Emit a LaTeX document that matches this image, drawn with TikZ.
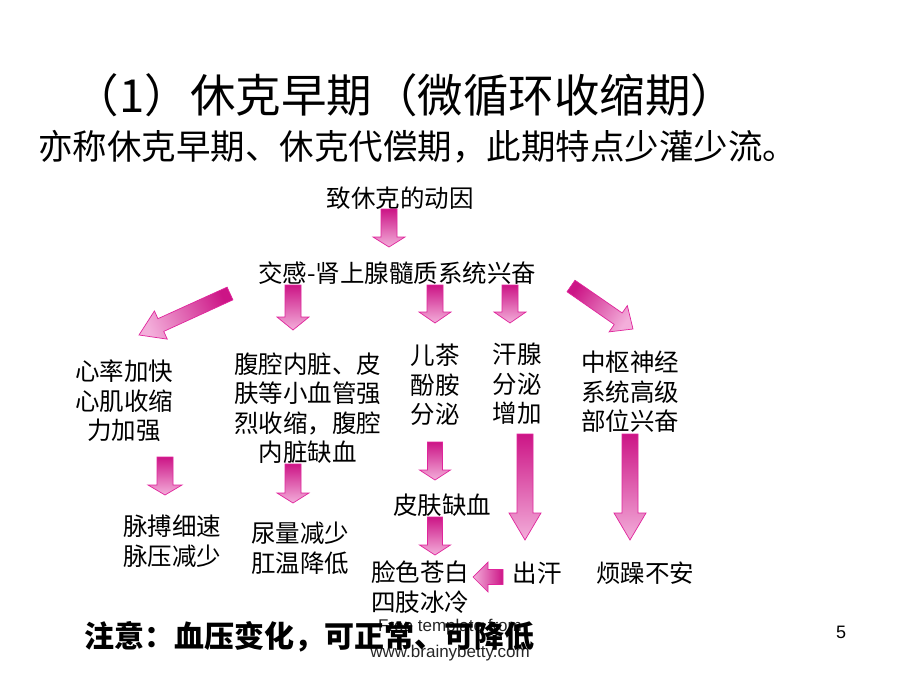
\documentclass[tikz,border=0pt]{standalone}
\usepackage{fontspec}
\setmainfont{Liberation Sans}
\newfontfamily\cjk{Noto Sans CJK SC}
\usetikzlibrary{calc}
\definecolor{arrdark}{HTML}{CC1586}
\definecolor{arrlight}{HTML}{F3AEDA}
\definecolor{arrline}{HTML}{E0259C}
\newdimen\blkdx
\newdimen\blkdy
\newcommand\blkarrow[5]{%
  \pgfmathanglebetweenpoints{\pgfpointanchor{#1}{center}}{\pgfpointanchor{#2}{center}}%
  \let\blkang\pgfmathresult
  \pgfmathparse{\blkang+90}\let\blkshang\pgfmathresult
  \pgfextractx{\blkdx}{\pgfpointdiff{\pgfpointanchor{#1}{center}}{\pgfpointanchor{#2}{center}}}%
  \pgfextracty{\blkdy}{\pgfpointdiff{\pgfpointanchor{#1}{center}}{\pgfpointanchor{#2}{center}}}%
  \pgfmathveclen{\blkdx}{\blkdy}\let\blklen\pgfmathresult
  \begin{scope}[shift={(#1)},rotate=\blkang]
    \shade[blockarrow,shading angle=\blkshang] (0pt,#3) -- ({\blklen pt-#5},#3) -- ({\blklen pt-#5},#4) -- (\blklen pt,0pt)
      -- ({\blklen pt-#5},-#4) -- ({\blklen pt-#5},-#3) -- (0pt,-#3) -- cycle;
  \end{scope}}
\tikzset{
  blockarrow/.style={draw=arrline,line width=0.7pt,line join=miter,top color=arrdark,bottom color=arrlight},
  txt/.style={inner sep=0pt,align=center,font=\cjk\fontsize{24.5}{29.5}\selectfont},
}
\begin{document}
\begin{tikzpicture}[x=1pt,y=-1pt]
\useasboundingbox (0,0) rectangle (900,675);
\fill[white] (0,0) rectangle (900,675);
% titles
\node[inner sep=0pt,font=\cjk\fontsize{45.5}{50}\selectfont] (title) at (405,95) {（1）休克早期（微循环收缩期）};
\node[inner sep=0pt,anchor=west,font=\cjk\fontsize{34.5}{40}\selectfont] (sub) at (38,147) {亦称休克早期、休克代偿期，此期特点少灌少流。};
% main nodes
\node[txt] (cause) at (400,198) {致休克的动因};
\node[txt] (symp) at (397,273) {交感-肾上腺髓质系统兴奋};
\node[txt] (heart) at (124,401) {心率加快\\心肌收缩\\力加强};
\node[txt] (vessel) at (307.5,408) {腹腔内脏、皮\\肤等小血管强\\烈收缩，腹腔\\内脏缺血};
\node[txt] (cat) at (435,385) {儿茶\\酚胺\\分泌};
\node[txt] (sweatg) at (517,384) {汗腺\\分泌\\增加};
\node[txt] (cns) at (630,392) {中枢神经\\系统高级\\部位兴奋};
\node[txt] (pulse) at (172,541) {脉搏细速\\脉压减少};
\node[txt] (urine) at (300,548) {尿量减少\\肛温降低};
\node[txt] (skin) at (442,505) {皮肤缺血};
\node[txt] (pale) at (420,587) {脸色苍白\\四肢冰冷};
\node[txt] (sweat) at (537,573) {出汗};
\node[txt] (rest) at (645,573) {烦躁不安};
% arrows
\coordinate (a1s) at (389,209); \coordinate (a1e) at (389,247);
\coordinate (a2s) at (230,293.5); \coordinate (a2e) at (139,335);
\coordinate (a3s) at (293,285); \coordinate (a3e) at (293,330);
\coordinate (a4s) at (435,285); \coordinate (a4e) at (435,323);
\coordinate (a5s) at (510,285); \coordinate (a5e) at (510,323);
\coordinate (a6s) at (571,286); \coordinate (a6e) at (633,329);
\coordinate (b1s) at (165,457); \coordinate (b1e) at (165,495);
\coordinate (b2s) at (293,464); \coordinate (b2e) at (293,503);
\coordinate (b3s) at (435,442); \coordinate (b3e) at (435,480);
\coordinate (b4s) at (525,434); \coordinate (b4e) at (525,540);
\coordinate (b5s) at (630,434); \coordinate (b5e) at (630,540);
\coordinate (b6s) at (435,517); \coordinate (b6e) at (435,555);
\coordinate (b7s) at (503,577); \coordinate (b7e) at (473,577);
\blkarrow{a1s}{a1e}{8pt}{16pt}{10pt}
\blkarrow{a2s}{a2e}{7pt}{15.5pt}{24pt}
\blkarrow{a3s}{a3e}{8pt}{16pt}{13pt}
\blkarrow{a4s}{a4e}{8pt}{16pt}{11pt}
\blkarrow{a5s}{a5e}{8pt}{16pt}{11pt}
\blkarrow{a6s}{a6e}{7pt}{16pt}{18pt}
\blkarrow{b1s}{b1e}{8pt}{17pt}{10pt}
\blkarrow{b2s}{b2e}{8pt}{16pt}{10pt}
\blkarrow{b3s}{b3e}{7.5pt}{15.5pt}{10pt}
\blkarrow{b4s}{b4e}{8pt}{16pt}{27pt}
\blkarrow{b5s}{b5e}{8pt}{16pt}{27pt}
\blkarrow{b6s}{b6e}{7.5pt}{15.5pt}{10pt}
\blkarrow{b7s}{b7e}{7.5pt}{15pt}{15pt}
% footer
\node[inner sep=0pt,font=\fontsize{17}{20}\selectfont,text=black!85] (free) at (450,627) {Free template from};
\node[inner sep=0pt,font=\fontsize{17}{20}\selectfont,text=black!85] (www) at (450,653) {www.brainybetty.com};
\node[inner sep=0pt,anchor=west,font=\cjk\bfseries\fontsize{30}{34}\selectfont] (note) at (84,637) {注意：血压变化，可正常、可降低};
\node[inner sep=0pt,font=\fontsize{18}{20}\selectfont] (page) at (841,632) {5};
\end{tikzpicture}
\end{document}
